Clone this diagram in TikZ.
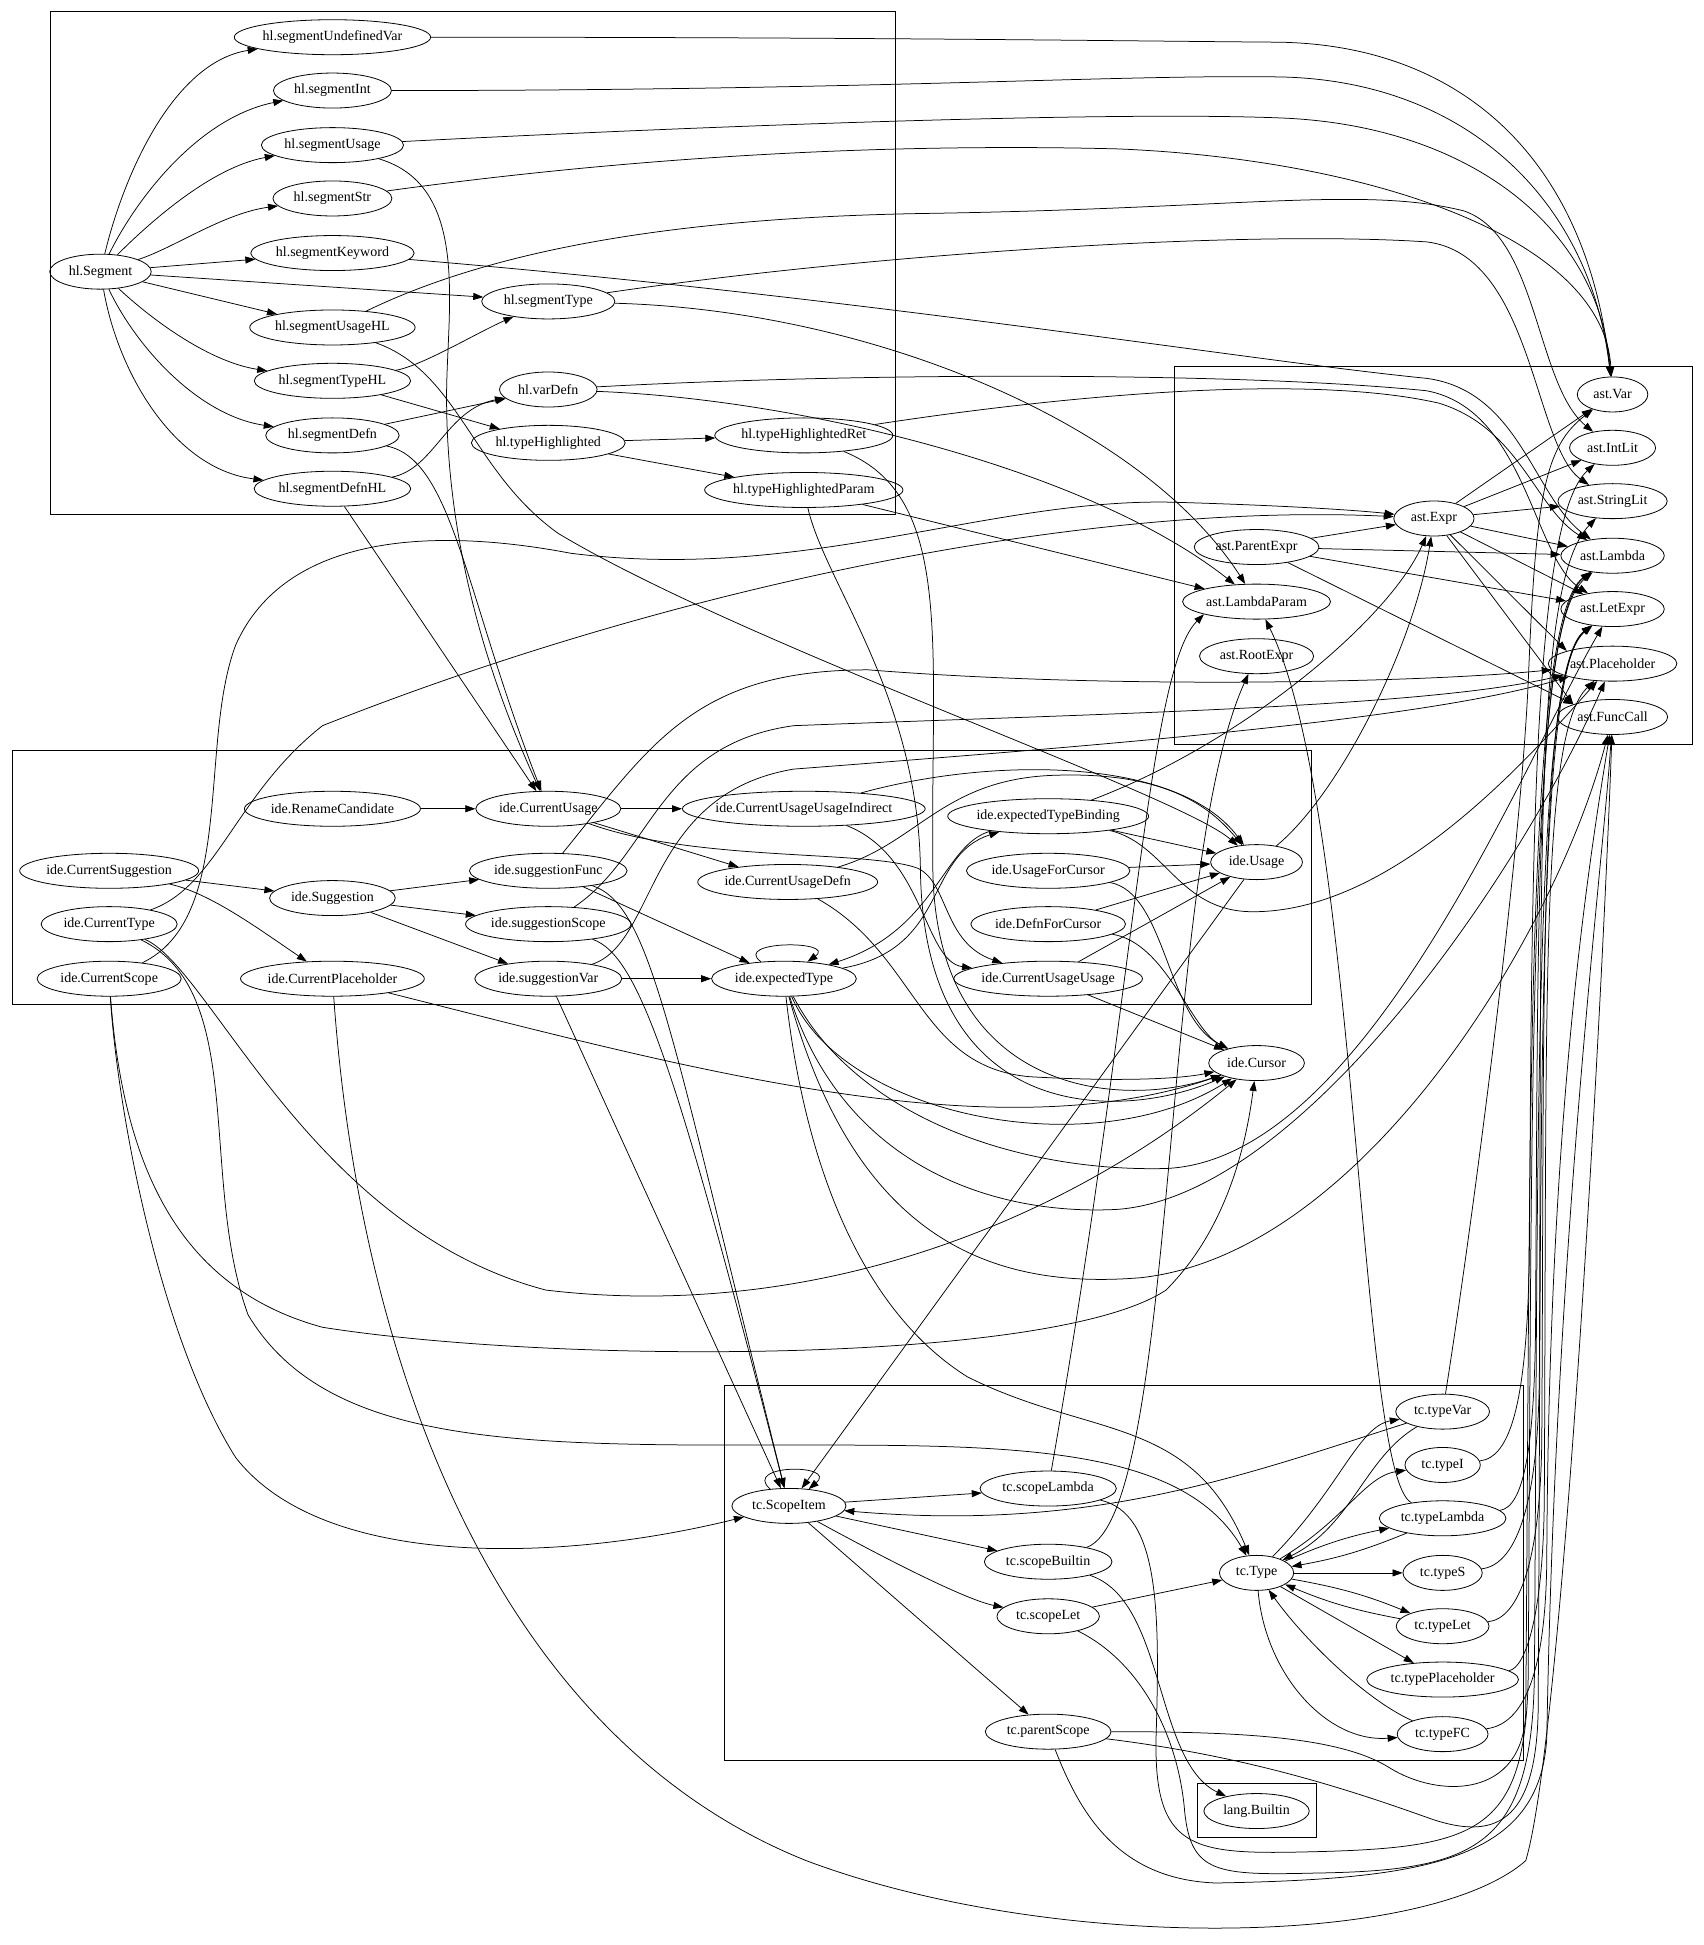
\documentclass[tikz,border=0pt]{standalone}
\usepackage{fontspec}
\setmainfont{Liberation Serif}
\usetikzlibrary{arrows.meta,shapes.geometric}

\newcommand{\lbl}[1]{\makebox[\dimexpr.88\width+16pt\relax]{#1}}

\begin{document}
\begin{tikzpicture}[
  x=1.2403pt, y=-1.2403pt,
  font=\fontsize{14pt}{16pt}\selectfont,
  >={Triangle[length=10pt,width=7pt]},
  pkg/.style={
    ellipse,
    draw,
    line width=.8pt,
    inner xsep=0pt,
    inner ysep=0pt,
    minimum width=54pt,
    minimum height=35pt
  },
  cluster/.style={draw, line width=.8pt},
  dep/.style={->, line width=.75pt}
]
\path[use as bounding box, fill=white] (0,0) rectangle (1373,1568);

\draw[cluster] (41,9) rectangle (722,415);
\draw[cluster] (947,295) rectangle (1364,600);
\draw[cluster] (10,605) rectangle (1057,810);
\draw[cluster] (584,1117) rectangle (1228,1419);
\draw[cluster] (965,1438) rectangle (1061,1481);

\node[pkg] (segUndefVar) at (268,30) {\lbl{hl.segmentUndefinedVar}};
\node[pkg] (segInt) at (268,73) {\lbl{hl.segmentInt}};
\node[pkg] (segUsage) at (268,117) {\lbl{hl.segmentUsage}};
\node[pkg] (segStr) at (268,160) {\lbl{hl.segmentStr}};
\node[pkg] (segKeyword) at (268,204) {\lbl{hl.segmentKeyword}};
\node[pkg] (seg) at (81,219) {\lbl{hl.Segment}};
\node[pkg] (segType) at (442,243) {\lbl{hl.segmentType}};
\node[pkg] (segUsageHL) at (268,264) {\lbl{hl.segmentUsageHL}};
\node[pkg] (segTypeHL) at (268,307) {\lbl{hl.segmentTypeHL}};
\node[pkg] (varDefn) at (442,314) {\lbl{hl.varDefn}};
\node[pkg] (segDefn) at (268,351) {\lbl{hl.segmentDefn}};
\node[pkg] (typeHl) at (442,357) {\lbl{hl.typeHighlighted}};
\node[pkg] (typeHlRet) at (648,351) {\lbl{hl.typeHighlightedRet}};
\node[pkg] (segDefnHL) at (268,394) {\lbl{hl.segmentDefnHL}};
\node[pkg] (typeHlParam) at (648,395) {\lbl{hl.typeHighlightedParam}};

\node[pkg] (astVar) at (1300,318) {\lbl{ast.Var}};
\node[pkg] (astIntLit) at (1300,361) {\lbl{ast.IntLit}};
\node[pkg] (astStringLit) at (1300,404) {\lbl{ast.StringLit}};
\node[pkg] (astExpr) at (1156,418) {\lbl{ast.Expr}};
\node[pkg] (astParentExpr) at (1013,441) {\lbl{ast.ParentExpr}};
\node[pkg] (astLambda) at (1300,448) {\lbl{ast.Lambda}};
\node[pkg] (astLambdaParam) at (1013,485) {\lbl{ast.LambdaParam}};
\node[pkg] (astLetExpr) at (1300,491) {\lbl{ast.LetExpr}};
\node[pkg] (astRootExpr) at (1013,529) {\lbl{ast.RootExpr}};
\node[pkg] (astPlaceholder) at (1300,535) {\lbl{ast.Placeholder}};
\node[pkg] (astFuncCall) at (1300,578) {\lbl{ast.FuncCall}};

\node[pkg] (renameCand) at (268,652) {\lbl{ide.RenameCandidate}};
\node[pkg] (curUsage) at (442,652) {\lbl{ide.CurrentUsage}};
\node[pkg] (cuIndirect) at (648,652) {\lbl{ide.CurrentUsageUsageIndirect}};
\node[pkg] (expTypeBinding) at (845,658) {\lbl{ide.expectedTypeBinding}};
\node[pkg] (curSugg) at (88,702) {\lbl{ide.CurrentSuggestion}};
\node[pkg] (sugFunc) at (442,702) {\lbl{ide.suggestionFunc}};
\node[pkg] (usageForCursor) at (845,702) {\lbl{ide.UsageForCursor}};
\node[pkg] (ideUsage) at (1013,695) {\lbl{ide.Usage}};
\node[pkg] (cuDefn) at (635,711) {\lbl{ide.CurrentUsageDefn}};
\node[pkg] (suggestion) at (268,724) {\lbl{ide.Suggestion}};
\node[pkg] (curType) at (88,745) {\lbl{ide.CurrentType}};
\node[pkg] (sugScope) at (442,745) {\lbl{ide.suggestionScope}};
\node[pkg] (defnForCursor) at (845,745) {\lbl{ide.DefnForCursor}};
\node[pkg] (curScope) at (88,789) {\lbl{ide.CurrentScope}};
\node[pkg] (curPlaceholder) at (268,789) {\lbl{ide.CurrentPlaceholder}};
\node[pkg] (sugVar) at (442,789) {\lbl{ide.suggestionVar}};
\node[pkg] (expType) at (632,789) {\lbl{ide.expectedType}};
\node[pkg] (cuUsage) at (845,789) {\lbl{ide.CurrentUsageUsage}};
\node[pkg] (ideCursor) at (1013,857) {\lbl{ide.Cursor}};

\node[pkg] (typeVar) at (1163,1138) {\lbl{tc.typeVar}};
\node[pkg] (typeI) at (1163,1181) {\lbl{tc.typeI}};
\node[pkg] (scopeLambda) at (845,1200) {\lbl{tc.scopeLambda}};
\node[pkg] (scopeItem) at (636,1214) {\lbl{tc.ScopeItem}};
\node[pkg] (typeLambda) at (1163,1224) {\lbl{tc.typeLambda}};
\node[pkg] (scopeBuiltin) at (845,1259) {\lbl{tc.scopeBuiltin}};
\node[pkg] (tcType) at (1013,1268) {\lbl{tc.Type}};
\node[pkg] (typeS) at (1163,1268) {\lbl{tc.typeS}};
\node[pkg] (scopeLet) at (845,1303) {\lbl{tc.scopeLet}};
\node[pkg] (typeLet) at (1163,1311) {\lbl{tc.typeLet}};
\node[pkg] (typePlaceholder) at (1163,1354) {\lbl{tc.typePlaceholder}};
\node[pkg] (parentScope) at (845,1396) {\lbl{tc.parentScope}};
\node[pkg] (typeFC) at (1163,1398) {\lbl{tc.typeFC}};

\node[pkg] (langBuiltin) at (1013,1460) {\lbl{lang.Builtin}};

\draw[dep] (seg) .. controls (100,140) and (140,50) .. (segUndefVar);
\draw[dep] (seg) .. controls (110,160) and (160,95) .. (segInt);
\draw[dep] (seg) .. controls (120,180) and (170,135) .. (segUsage);
\draw[dep] (seg) .. controls (140,200) and (180,172) .. (segStr);
\draw[dep] (seg) -- (segKeyword);
\draw[dep] (seg) -- (segType);
\draw[dep] (seg) -- (segUsageHL);
\draw[dep] (seg) .. controls (125,260) and (170,292) .. (segTypeHL);
\draw[dep] (seg) .. controls (110,280) and (160,335) .. (segDefn);
\draw[dep] (seg) .. controls (95,300) and (140,378) .. (segDefnHL);
\draw[dep] (segTypeHL) .. controls (340,295) and (385,268) .. (segType);
\draw[dep] (segTypeHL) -- (typeHl);
\draw[dep] (segDefn) -- (varDefn);
\draw[dep] (segDefnHL) .. controls (350,378) and (360,330) .. (varDefn);
\draw[dep] (typeHl) -- (typeHlRet);
\draw[dep] (typeHl) -- (typeHlParam);

\draw[dep] (segUndefVar) .. controls (700,30) and (900,33) .. (1030,34) .. controls (1180,36) and (1280,130) .. (astVar);
\draw[dep] (segInt) .. controls (700,73) and (900,60) .. (1030,62) .. controls (1180,64) and (1282,160) .. (astVar);
\draw[dep] (segUsage) .. controls (600,100) and (900,90) .. (1030,95) .. controls (1180,100) and (1288,180) .. (astVar);
\draw[dep] (segStr) .. controls (500,128) and (700,115) .. (900,120) .. controls (1100,128) and (1292,190) .. (astVar);
\draw[dep] (segUsageHL) .. controls (400,200) and (550,175) .. (750,172) .. controls (1000,168) and (1100,150) .. (1180,170) .. controls (1240,190) and (1238,310) .. (astIntLit);
\draw[dep] (segType) .. controls (700,205) and (1000,185) .. (1150,195) .. controls (1236,205) and (1236,360) .. (astStringLit);
\draw[dep] (segKeyword) .. controls (700,240) and (1000,290) .. (1150,305) .. controls (1225,315) and (1236,400) .. (astLambda);
\draw[dep] (segType) .. controls (700,250) and (920,340) .. (astLambdaParam);
\draw[dep] (varDefn) .. controls (700,300) and (1000,300) .. (1150,315) .. controls (1230,330) and (1236,450) .. (astLetExpr);
\draw[dep] (varDefn) .. controls (650,322) and (880,380) .. (astLambdaParam);
\draw[dep] (typeHlRet) .. controls (850,320) and (1050,300) .. (1160,325) .. controls (1225,345) and (1238,410) .. (astLambda);
\draw[dep] (typeHlParam) -- (astLambdaParam);

\draw[dep] (segUsage) .. controls (380,150) and (360,250) .. (360,320) .. controls (360,450) and (400,560) .. (curUsage);
\draw[dep] (segDefn) .. controls (365,370) and (375,480) .. (curUsage);
\draw[dep] (segDefnHL) -- (curUsage);
\draw[dep] (segUsageHL) .. controls (370,300) and (380,380) .. (450,430) .. controls (600,520) and (950,640) .. (ideUsage);
\draw[dep] (typeHlRet) .. controls (770,400) and (750,520) .. (752,700) .. controls (754,880) and (900,895) .. (ideCursor);
\draw[dep] (typeHlParam) .. controls (665,470) and (740,560) .. (742,700) .. controls (744,905) and (900,905) .. (ideCursor);

\draw[dep] (renameCand) -- (curUsage);
\draw[dep] (curUsage) -- (cuIndirect);
\draw[dep] (curUsage) -- (cuDefn);
\draw[dep] (curUsage) .. controls (560,695) and (700,685) .. (740,700) .. controls (765,712) and (760,760) .. (cuUsage);
\draw[dep] (cuIndirect) .. controls (800,610) and (950,610) .. (ideUsage);
\draw[dep] (cuIndirect) .. controls (745,690) and (745,775) .. (cuUsage);
\draw[dep] (cuDefn) .. controls (740,680) and (760,628) .. (850,625) .. controls (940,622) and (975,650) .. (ideUsage);
\draw[dep] (cuDefn) .. controls (740,770) and (740,860) .. (830,868) .. controls (900,872) and (950,870) .. (ideCursor);
\draw[dep] (expTypeBinding) -- (ideUsage);
\draw[dep] (expTypeBinding) .. controls (1000,600) and (1120,500) .. (astExpr);
\draw[dep] (expTypeBinding) .. controls (760,680) and (755,750) .. (expType);
\draw[dep] (expType) .. controls (765,765) and (745,690) .. (expTypeBinding);
\draw[dep] (expTypeBinding) .. controls (940,680) and (950,735) .. (1010,735) .. controls (1120,735) and (1225,620) .. (astPlaceholder);
\draw[dep] (usageForCursor) -- (ideUsage);
\draw[dep] (usageForCursor) .. controls (940,720) and (940,820) .. (ideCursor);
\draw[dep] (defnForCursor) -- (ideUsage);
\draw[dep] (defnForCursor) .. controls (940,760) and (960,830) .. (ideCursor);
\draw[dep] (cuUsage) -- (ideUsage);
\draw[dep] (cuUsage) -- (ideCursor);
\draw[dep] (ideUsage) .. controls (1080,640) and (1140,520) .. (astExpr);
\draw[dep] (ideUsage) -- (scopeItem);
\draw[dep] (curSugg) -- (suggestion);
\draw[dep] (curSugg) .. controls (170,720) and (210,750) .. (curPlaceholder);
\draw[dep] (suggestion) -- (sugFunc);
\draw[dep] (suggestion) -- (sugScope);
\draw[dep] (suggestion) -- (sugVar);
\draw[dep] (sugFunc) -- (expType);
\draw[dep] (sugVar) -- (expType);
\draw[dep] (expType) .. controls (590,758) and (675,758) .. (expType);
\draw[dep] (sugFunc) .. controls (525,600) and (560,540) .. (700,540) .. controls (900,556) and (1150,550) .. (astPlaceholder);
\draw[dep] (sugScope) .. controls (525,690) and (530,600) .. (640,585) .. controls (900,575) and (1150,570) .. (astPlaceholder);
\draw[dep] (sugVar) .. controls (530,760) and (520,640) .. (640,620) .. controls (900,600) and (1150,580) .. (astPlaceholder);
\draw[dep] (sugFunc) .. controls (525,730) and (540,830) .. (scopeItem);
\draw[dep] (sugScope) .. controls (515,770) and (545,860) .. (scopeItem);
\draw[dep] (sugVar) -- (scopeItem);
\draw[dep] (curType) .. controls (175,715) and (190,640) .. (260,585) .. controls (550,470) and (880,405) .. (astExpr);
\draw[dep] (curScope) .. controls (190,740) and (160,600) .. (190,520) .. controls (230,430) and (350,425) .. (460,446) .. controls (650,470) and (800,400) .. (950,405) .. controls (1050,408) and (1100,412) .. (astExpr);
\draw[dep] (curType) .. controls (170,780) and (250,990) .. (440,1040) .. controls (650,1065) and (850,990) .. (ideCursor);
\draw[dep] (curType) .. controls (200,800) and (160,950) .. (200,1060) .. controls (260,1160) and (400,1165) .. (600,1165) .. controls (800,1165) and (950,1160) .. (tcType);
\draw[dep] (curScope) .. controls (95,900) and (130,1080) .. (190,1175) .. controls (260,1265) and (450,1260) .. (scopeItem);
\draw[dep] (curScope) .. controls (100,950) and (150,1040) .. (260,1070) .. controls (450,1100) and (850,1100) .. (940,1040) .. controls (990,990) and (1005,920) .. (ideCursor);
\draw[dep] (curPlaceholder) .. controls (550,860) and (800,930) .. (ideCursor);
\draw[dep] (curPlaceholder) .. controls (290,1100) and (400,1400) .. (650,1500) .. controls (850,1575) and (1150,1570) .. (1230,1500) .. controls (1260,1400) and (1292,800) .. (astFuncCall);
\draw[dep] (expType) .. controls (650,950) and (700,1060) .. (780,1110) .. controls (880,1160) and (960,1140) .. (tcType);
\draw[dep] (expType) .. controls (680,900) and (880,940) .. (ideCursor);
\draw[dep] (expType) .. controls (690,900) and (820,945) .. (940,942) .. controls (1100,935) and (1225,620) .. (astLetExpr);
\draw[dep] (expType) .. controls (680,940) and (800,980) .. (900,975) .. controls (1050,965) and (1228,700) .. (astPlaceholder);
\draw[dep] (expType) .. controls (690,1000) and (800,1040) .. (920,1030) .. controls (1100,1010) and (1255,750) .. (astFuncCall);

\draw[dep] (astExpr) -- (astVar);
\draw[dep] (astExpr) -- (astIntLit);
\draw[dep] (astExpr) -- (astStringLit);
\draw[dep] (astExpr) -- (astLambda);
\draw[dep] (astExpr) -- (astLetExpr);
\draw[dep] (astExpr) -- (astPlaceholder.north west);
\draw[dep] (astExpr) -- (astFuncCall.north west);
\draw[dep] (astParentExpr) -- (astExpr);
\draw[dep] (astParentExpr) -- (astLambda);
\draw[dep] (astParentExpr) -- (astLetExpr);
\draw[dep] (astParentExpr) -- (astFuncCall.north west);

\draw[dep] (scopeItem) .. controls (598,1180) and (676,1180) .. (scopeItem);
\draw[dep] (scopeItem) -- (scopeLambda);
\draw[dep] (scopeItem) -- (scopeBuiltin);
\draw[dep] (scopeItem) .. controls (720,1260) and (780,1290) .. (scopeLet);
\draw[dep] (scopeItem) -- (parentScope);
\draw[dep] (typeVar) .. controls (1000,1190) and (880,1235) .. (scopeItem);
\draw[dep] (scopeLambda) .. controls (915,800) and (925,540) .. (astLambdaParam.south west);
\draw[dep] (scopeBuiltin) .. controls (950,1220) and (935,700) .. (astRootExpr);
\draw[dep] (scopeBuiltin) .. controls (940,1290) and (930,1420) .. (langBuiltin);
\draw[dep] (scopeLambda) .. controls (935,1220) and (935,1300) .. (932,1400) .. controls (930,1490) and (960,1495) .. (1050,1493) .. controls (1190,1490) and (1230,1480) .. (1232,1350) .. controls (1235,900) and (1232,500) .. (astLambda);
\draw[dep] (scopeLet) -- (tcType);
\draw[dep] (scopeLet) .. controls (920,1340) and (950,1400) .. (955,1460) .. controls (960,1510) and (980,1512) .. (1060,1510) .. controls (1190,1508) and (1235,1490) .. (1237,1350) .. controls (1240,900) and (1237,540) .. (astLetExpr);
\draw[dep] (parentScope) .. controls (1000,1396) and (1080,1400) .. (1120,1425) .. controls (1160,1450) and (1228,1450) .. (1230,1380) .. controls (1234,900) and (1230,500) .. (astLambda);
\draw[dep] (parentScope) .. controls (1000,1415) and (1080,1440) .. (1150,1465) .. controls (1205,1485) and (1238,1470) .. (1240,1380) .. controls (1243,900) and (1238,540) .. (astLetExpr);
\draw[dep] (parentScope) .. controls (870,1460) and (900,1515) .. (980,1518) .. controls (1150,1515) and (1242,1500) .. (1247,1400) .. controls (1254,1000) and (1292,700) .. (astFuncCall);

\draw[dep] (tcType) .. controls (1080,1200) and (1095,1150) .. (typeVar);
\draw[dep] (typeVar) .. controls (1100,1175) and (1090,1230) .. (tcType);
\draw[dep] (tcType) .. controls (1085,1225) and (1100,1190) .. (typeI);
\draw[dep] (tcType) to[bend left=6] (typeLambda);
\draw[dep] (typeLambda) to[bend left=6] (tcType);
\draw[dep] (tcType) -- (typeS);
\draw[dep] (tcType) to[bend left=6] (typeLet);
\draw[dep] (typeLet) to[bend left=6] (tcType);
\draw[dep] (tcType) -- (typePlaceholder);
\draw[dep] (tcType) .. controls (1020,1350) and (1070,1405) .. (typeFC);
\draw[dep] (typeFC) .. controls (1100,1370) and (1050,1320) .. (tcType);

\draw[dep] (typeVar) .. controls (1185,1000) and (1225,700) .. (1232,550) .. controls (1238,400) and (1245,360) .. (astVar);
\draw[dep] (typeI) .. controls (1218,1175) and (1232,1130) .. (1233,1000) .. controls (1235,700) and (1235,420) .. (astIntLit);
\draw[dep] (typeLambda) .. controls (1228,1215) and (1238,1170) .. (1238,1050) .. controls (1240,750) and (1237,500) .. (astLambda);
\draw[dep] (typeLambda) .. controls (1095,1190) and (1095,650) .. (astLambdaParam);
\draw[dep] (typeS) .. controls (1220,1262) and (1241,1220) .. (1241,1100) .. controls (1243,700) and (1236,470) .. (astStringLit);
\draw[dep] (typeLet) .. controls (1224,1305) and (1243,1260) .. (1243,1150) .. controls (1245,800) and (1240,540) .. (astLetExpr);
\draw[dep] (typePlaceholder) .. controls (1230,1345) and (1245,1300) .. (1245,1200) .. controls (1247,800) and (1242,590) .. (astPlaceholder);
\draw[dep] (typeFC) .. controls (1228,1390) and (1247,1350) .. (1247,1250) .. controls (1249,900) and (1280,700) .. (astFuncCall);

\end{tikzpicture}
\end{document}
